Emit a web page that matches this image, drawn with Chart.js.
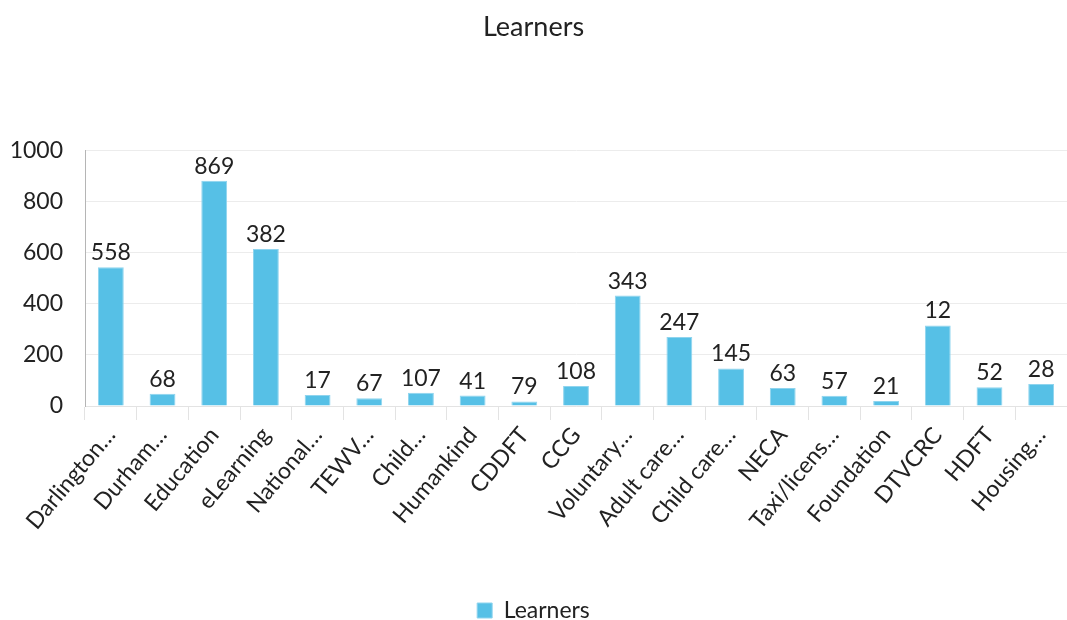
<!DOCTYPE html>
<html>
<head>
<meta charset="utf-8">
<script src="https://cdn.jsdelivr.net/npm/chart.js@4"></script>
<style>
  html, body { margin: 0; padding: 0; background: #fff; }
  #wrap { width: 1067px; height: 620px; }
</style>
</head>
<body>
<div id="wrap"><canvas id="chart"></canvas></div>
<script>
// categorias (truncadas como en el original)
const categories = [
  'Darlington…', 'Durham…', 'Education', 'eLearning', 'National…', 'TEWV…',
  'Child…', 'Humankind', 'CDDFT', 'CCG', 'Voluntary…', 'Adult care…',
  'Child care…', 'NECA', 'Taxi/licens…', 'Foundation', 'DTVCRC', 'HDFT', 'Housing…',
];
// altura de barras
const learners = [543, 48, 881, 614, 43, 30, 52, 41, 18, 78, 432, 270, 147, 70, 40, 20, 315, 73, 86];
// etiquetas de datos tal como aparecen
const dataLabels = [558, 68, 869, 382, 17, 67, 107, 41, 79, 108, 343, 247, 145, 63, 57, 21, 12, 52, 28];
const yTicks = [0, 200, 400, 600, 800, 1000];

const FONT = 'Lato, "Open Sans", sans-serif';
const BAR = '#56c0e6';
const TEXT = '#222';

const valueLabels = {
  id: 'valueLabels',
  afterDatasetsDraw(chart) {
    const { ctx } = chart;
    const meta = chart.getDatasetMeta(0);
    ctx.save();
    ctx.font = `23px ${FONT}`;
    ctx.fillStyle = TEXT;
    ctx.textAlign = 'center';
    ctx.textBaseline = 'alphabetic';
    meta.data.forEach((bar, i) => {
      ctx.fillText(String(dataLabels[i]), bar.x, bar.y - 7);
    });
    ctx.restore();
  },
};

new Chart(document.getElementById('chart').getContext('2d'), {
  type: 'bar',
  data: {
    labels: categories,
    datasets: [{
      label: 'Learners',
      data: learners,
      backgroundColor: BAR,
      borderColor: '#8fd4ee',
      borderWidth: 1,
      categoryPercentage: 1,
      barPercentage: 0.5,
    }],
  },
  plugins: [valueLabels],
  options: {
    responsive: true,
    maintainAspectRatio: false,
    animation: false,
    layout: { padding: { top: 0, left: 0, right: 0, bottom: -12 } },
    plugins: {
      title: {
        display: true,
        text: 'Learners',
        color: TEXT,
        font: { family: FONT, size: 27, weight: 'normal' },
        padding: { top: 11, bottom: 107 },
      },
      legend: {
        position: 'bottom',
        labels: {
          color: TEXT,
          font: { family: FONT, size: 23, lineHeight: 1 },
          boxWidth: 15,
          boxHeight: 15,
          padding: 0,
        },
      },
      tooltip: { enabled: false },
    },
    scales: {
      x: {
        afterFit: (s) => { s.height = 193; },
        grid: { offset: true, drawOnChartArea: false, color: '#e3e3e3', tickLength: 14 },
        border: { color: '#e3e3e3' },
        ticks: {
          color: TEXT,
          font: { family: FONT, size: 23 },
          maxRotation: 50,
          minRotation: 50,
          autoSkip: false,
          padding: 2,
        },
      },
      y: {
        min: 0,
        max: 1000,
        afterBuildTicks: (s) => { s.ticks = yTicks.map((v) => ({ value: v })); },
        afterFit: (s) => { s.width = 85; },
        grid: { color: '#ececec', drawTicks: false },
        border: { color: '#b5b5b5' },
        ticks: {
          color: TEXT,
          font: { family: FONT, size: 23 },
          padding: 22,
          callback: (v) => String(v),
        },
      },
    },
  },
});
</script>
</body>
</html>
